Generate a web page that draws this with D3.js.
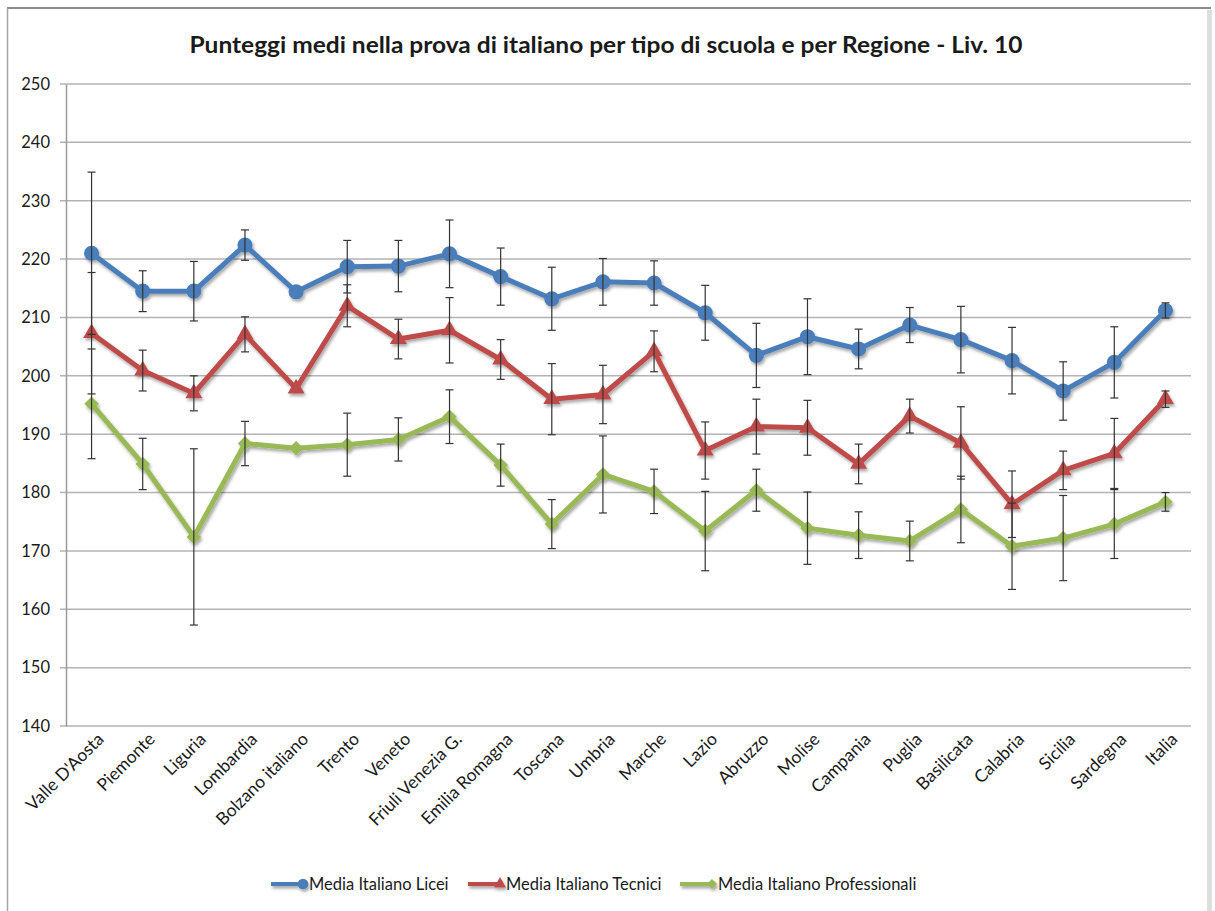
<!DOCTYPE html>
<html>
<head>
<meta charset="utf-8">
<script src="https://cdn.jsdelivr.net/npm/d3@7"></script>
<style>
  body { margin: 0; background: #fff; }
  text { font-family: Lato, "Open Sans", sans-serif; fill: #1a1a1a; }
</style>
</head>
<body>
<script>
// values (error bars are symmetric)
const regions = ["Valle D'Aosta", "Piemonte", "Liguria", "Lombardia", "Bolzano italiano", "Trento", "Veneto",
    "Friuli Venezia G.", "Emilia Romagna", "Toscana", "Umbria", "Marche", "Lazio", "Abruzzo", "Molise",
    "Campania", "Puglia", "Basilicata", "Calabria", "Sicilia", "Sardegna", "Italia"];

const licei = [221.0, 214.5, 214.5, 222.4, 214.4, 218.7, 218.8, 220.9, 217.0, 213.2, 216.1,
    215.9, 210.8, 203.5, 206.7, 204.6, 208.7, 206.2, 202.6, 197.4, 202.3, 211.2];
const liceiErr = [13.9, 3.5, 5.1, 2.6, 0, 4.5, 4.4, 5.8, 4.9, 5.4, 4.0,
    3.8, 4.7, 5.5, 6.5, 3.4, 3.0, 5.7, 5.7, 5.0, 6.1, 1.3];

const tecnici = [207.3, 200.9, 197.0, 207.1, 197.8, 212.0, 206.3, 207.8, 202.8, 196.0, 196.8,
    204.2, 187.2, 191.3, 191.1, 184.9, 193.1, 188.5, 178.0, 183.8, 186.7, 196.0];
const tecniciErr = [10.4, 3.5, 3.0, 3.0, 0, 3.6, 3.4, 5.6, 3.4, 6.1, 5.0,
    3.5, 4.9, 4.7, 4.7, 3.4, 2.9, 6.2, 5.7, 3.3, 6.0, 1.4];

const professionali = [195.2, 184.9, 172.4, 188.4, 187.6, 188.2, 189.1, 193.0, 184.7, 174.6, 183.1,
    180.2, 173.4, 180.4, 173.9, 172.7, 171.7, 177.1, 170.8, 172.2, 174.6, 178.4];
const professionaliErr = [9.4, 4.4, 15.1, 3.8, 0, 5.4, 3.7, 4.6, 3.6, 4.2, 6.6,
    3.8, 6.8, 3.6, 6.2, 4.0, 3.4, 5.7, 7.4, 7.3, 5.9, 1.6];

const seriesNames = ["Media Italiano Licei", "Media Italiano Tecnici", "Media Italiano Professionali"];
const yTicks = [140, 150, 160, 170, 180, 190, 200, 210, 220, 230, 240, 250];

const title = "Punteggi medi nella prova di italiano per tipo di scuola e per Regione - Liv. 10";

const width = 1215,
    height = 911;

const svg = d3.select("body").append("svg")
    .attr("width", width)
    .attr("height", height);

// soft shadow like the office chart
const defs = svg.append("defs");
const shadow = defs.append("filter").attr("id", "shadow")
    .attr("filterUnits", "userSpaceOnUse")
    .attr("x", 0).attr("y", 0).attr("width", width).attr("height", height);
shadow.append("feDropShadow")
    .attr("dx", 1.5).attr("dy", 2.5).attr("stdDeviation", 1.5)
    .attr("flood-color", "#000").attr("flood-opacity", 0.35);

// chart frame
svg.append("line").attr("x1", 7).attr("x2", 1211).attr("y1", 8).attr("y2", 8)
    .attr("stroke", "#8c8c8c").attr("stroke-width", 2);
svg.append("line").attr("x1", 7.5).attr("x2", 7.5).attr("y1", 8).attr("y2", height)
    .attr("stroke", "#a6a6a6").attr("stroke-width", 1.5);
svg.append("rect").attr("x", 1207).attr("y", 10).attr("width", 5).attr("height", height - 10)
    .attr("fill", "#dedede");

svg.append("text")
    .attr("x", 606).attr("y", 53)
    .attr("text-anchor", "middle")
    .attr("textLength", 833).attr("lengthAdjust", "spacingAndGlyphs")
    .style("font-size", "23px").style("font-weight", "bold")
    .text(title);

const x = d3.scaleBand()
    .domain(regions)
    .range([66, 1191]);

const y = d3.scaleLinear()
    .domain([140, 250])
    .range([726, 84]);

const cx = d => x(d) + x.bandwidth() / 2;

// horizontal grid
svg.append("g")
    .selectAll("line")
    .data(yTicks)
    .enter().append("line")
    .attr("x1", 60).attr("x2", 1191)
    .attr("y1", d => y(d)).attr("y2", d => y(d))
    .attr("stroke", "#b3b3b3")
    .attr("stroke-width", 1.5);

// y axis
const yAxis = svg.append("g")
    .attr("transform", "translate(66,0)")
    .call(d3.axisLeft(y).tickValues(yTicks).tickSize(0).tickPadding(16));
yAxis.select(".domain").attr("stroke", "#9a9a9a").attr("stroke-width", 1.5);
yAxis.selectAll("text").style("font-size", "16.5px").attr("fill", "#1a1a1a");

// x labels, rotated
svg.append("g")
    .selectAll("text")
    .data(regions)
    .enter().append("text")
    .attr("transform", d => `translate(${cx(d) + 9},${736}) rotate(-45)`)
    .attr("text-anchor", "end")
    .attr("dy", "0.35em")
    .style("font-size", "17.5px")
    .text(d => d);

const series = [
    { name: seriesNames[0], values: licei, errs: liceiErr, color: "#4a7ebb", symbol: d3.symbolCircle, size: 180, rot: 0 },
    { name: seriesNames[1], values: tecnici, errs: tecniciErr, color: "#be4b48", symbol: d3.symbolTriangle, size: 125, rot: 0 },
    { name: seriesNames[2], values: professionali, errs: professionaliErr, color: "#98b954", symbol: d3.symbolSquare, size: 105, rot: 45 }
];

const line = d3.line()
    .x((d, i) => cx(regions[i]))
    .y(d => y(d));

series.forEach(s => {
    const g = svg.append("g").attr("filter", "url(#shadow)");
    g.append("path")
        .datum(s.values)
        .attr("d", line)
        .attr("fill", "none")
        .attr("stroke", s.color)
        .attr("stroke-width", 5)
        .attr("stroke-linejoin", "round");
    g.selectAll("path.mark")
        .data(s.values)
        .enter().append("path")
        .attr("class", "mark")
        .attr("d", d3.symbol().type(s.symbol).size(s.size))
        .attr("transform", (d, i) => `translate(${cx(regions[i])},${y(d)}) rotate(${s.rot})`)
        .attr("fill", s.color);
});

// error bars on top
series.forEach(s => {
    const eg = svg.append("g")
        .attr("stroke", "#333")
        .attr("stroke-width", 1.2);
    s.values.forEach((v, i) => {
        const e = s.errs[i];
        if (!e) return;
        const px = cx(regions[i]);
        eg.append("line").attr("x1", px).attr("x2", px).attr("y1", y(v + e)).attr("y2", y(v - e));
        eg.append("line").attr("x1", px - 4).attr("x2", px + 4).attr("y1", y(v + e)).attr("y2", y(v + e));
        eg.append("line").attr("x1", px - 4).attr("x2", px + 4).attr("y1", y(v - e)).attr("y2", y(v - e));
    });
});

// legend
const legendX = [271, 468, 680];
const legend = svg.append("g")
    .attr("filter", "url(#shadow)")
    .selectAll("g")
    .data(series)
    .enter().append("g")
    .attr("transform", (d, i) => `translate(${legendX[i]},884)`);
legend.append("line")
    .attr("x1", 0).attr("x2", 34)
    .attr("stroke", d => d.color)
    .attr("stroke-width", 4);
legend.append("path")
    .attr("d", d => d3.symbol().type(d.symbol).size(d.size * 0.5)())
    .attr("transform", d => `translate(32,0) rotate(${d.rot})`)
    .attr("fill", d => d.color);
svg.append("g")
    .selectAll("text")
    .data(series)
    .enter().append("text")
    .attr("x", (d, i) => legendX[i] + 38)
    .attr("y", 884)
    .attr("dy", "0.35em")
    .style("font-size", "16.5px")
    .text(d => d.name);
</script>
</body>
</html>
